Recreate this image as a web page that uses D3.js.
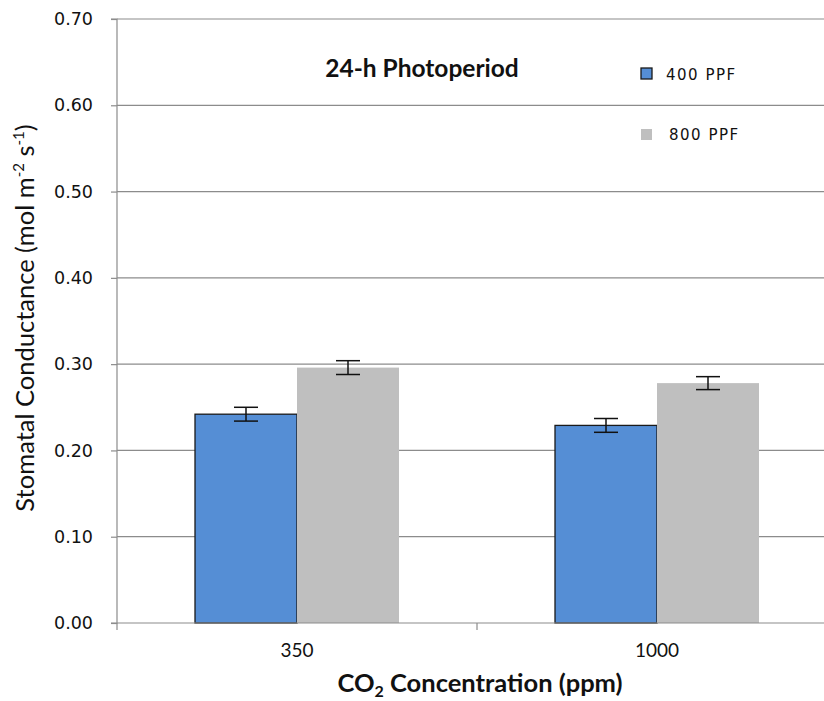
<!DOCTYPE html>
<html><head><meta charset="utf-8">
<script src="https://cdn.jsdelivr.net/npm/d3@7"></script>
<style>body{margin:0;background:#fff}</style>
</head><body>
<svg id="c" width="824" height="701"></svg>
<script>
const categories = ["350", "1000"];
const seriesNames = ["400 PPF", "800 PPF"];
const values400 = [0.242, 0.229];
const values800 = [0.296, 0.278];
const err400 = [0.008, 0.008];
const err800 = [0.008, 0.0075];
const yTicks = [0, 0.1, 0.2, 0.3, 0.4, 0.5, 0.6, 0.7];
const colors = ["#558ed5", "#bfbfbf"];

(function () {
const svg = d3.select("#c");
const pl = 117, pr = 837, pt = 19, pb = 623;
const y = d3.scaleLinear().domain([0, 0.7]).range([pb, pt]);
const x = d3.scaleBand().domain(categories).range([pl, pr]).paddingInner(0).paddingOuter(0);
const barW = 102;

// gridlines
svg.append("g").selectAll("line").data(yTicks.filter(d => d > 0)).join("line")
  .attr("x1", pl).attr("x2", pr).attr("y1", d => y(d)).attr("y2", d => y(d))
  .attr("stroke", "#8c8c8c").attr("stroke-width", 1.2);

// bars
const data = categories.map((c, i) => ({c, vals: [
  {s: 0, v: values400[i], e: err400[i]}, {s: 1, v: values800[i], e: err800[i]}]}));
const g = svg.append("g");
data.forEach(d => {
  const cx = x(d.c) + x.bandwidth() / 2;
  d.vals.forEach(b => {
    const bx = b.s === 0 ? cx - barW : cx;
    g.append("rect").attr("x", bx).attr("y", y(b.v)).attr("width", barW).attr("height", y(0) - y(b.v))
      .attr("fill", colors[b.s])
      .attr("stroke", b.s === 0 ? "#1a1a1a" : "none").attr("stroke-width", 1.3);
    const ex = bx + barW / 2;
    g.append("line").attr("x1", ex).attr("x2", ex).attr("y1", y(b.v + b.e)).attr("y2", y(b.v - b.e))
      .attr("stroke", "#111").attr("stroke-width", 1.5);
    [b.v + b.e, b.v - b.e].forEach(v => g.append("line").attr("x1", ex - 12).attr("x2", ex + 12)
      .attr("y1", y(v)).attr("y2", y(v)).attr("stroke", "#111").attr("stroke-width", 1.5));
  });
});

// y axis
const ya = svg.append("g").attr("transform", `translate(${pl},0)`)
  .call(d3.axisLeft(y).tickValues(yTicks).tickFormat(d3.format(".2f")).tickSize(6).tickPadding(18));
ya.select(".domain").attr("stroke", "#8c8c8c").attr("stroke-width", 1.2).attr("d", `M-6,${pt}H0V${pb}H-6`);
ya.selectAll(".tick line").attr("stroke", "#8c8c8c").attr("stroke-width", 1.2);
ya.selectAll(".tick text").attr("font-family", "DejaVu Sans, Verdana, sans-serif").attr("font-size", 17.5).attr("fill", "#111");

// x axis
const xa = svg.append("g").attr("transform", `translate(0,${pb})`)
  .call(d3.axisBottom(x).tickSize(0).tickPadding(21));
xa.select(".domain").attr("stroke", "#8c8c8c").attr("stroke-width", 1.2).attr("d", `M${pl},0H${pr}`);
xa.selectAll(".tick text").attr("font-family", "Lato, sans-serif").attr("font-size", 19).attr("fill", "#111");
[pl, pl + x.bandwidth(), pr].forEach(t => xa.append("line").attr("x1", t).attr("x2", t).attr("y1", 0).attr("y2", 7)
  .attr("stroke", "#8c8c8c").attr("stroke-width", 1.2));

// titles
svg.append("text").attr("x", 422).attr("y", 77).attr("text-anchor", "middle")
  .attr("font-family", "Lato, sans-serif").attr("font-weight", "bold").attr("font-size", 24.5).attr("fill", "#111")
  .text("24-h Photoperiod");

const xt = svg.append("text").attr("x", 480).attr("y", 692).attr("text-anchor", "middle")
  .attr("font-family", "Lato, sans-serif").attr("font-weight", "bold").attr("font-size", 25.5).attr("fill", "#111");
xt.append("tspan").text("CO");
xt.append("tspan").attr("font-size", 16).attr("dy", 5).text("2");
xt.append("tspan").attr("dy", -5).text(" Concentration (ppm)");

const yt = svg.append("text").attr("transform", "translate(34,318) rotate(-90)").attr("text-anchor", "middle")
  .attr("font-family", "Lato, sans-serif").attr("font-size", 25.5).attr("fill", "#111");
yt.append("tspan").text("Stomatal Conductance (mol m");
yt.append("tspan").attr("font-size", 15).attr("dy", -10).text("-2");
yt.append("tspan").attr("dy", 10).text(" s");
yt.append("tspan").attr("font-size", 15).attr("dy", -10).text("-1");
yt.append("tspan").attr("dy", 10).text(")");

// legend
const leg = svg.append("g");
[[68, 80], [129, 140]].forEach((p, i) => {
  leg.append("rect").attr("x", 641).attr("y", p[0]).attr("width", 11).attr("height", 11)
    .attr("fill", colors[i]).attr("stroke", i === 0 ? "#1a1a1a" : "none").attr("stroke-width", 1.3);
  leg.append("text").attr("x", i === 0 ? 666 : 669).attr("y", p[1])
    .attr("font-family", "DejaVu Sans, Verdana, sans-serif").attr("font-size", 15).attr("letter-spacing", 1.5).attr("fill", "#111")
    .text(seriesNames[i]);
});
})();
</script>
</body></html>
